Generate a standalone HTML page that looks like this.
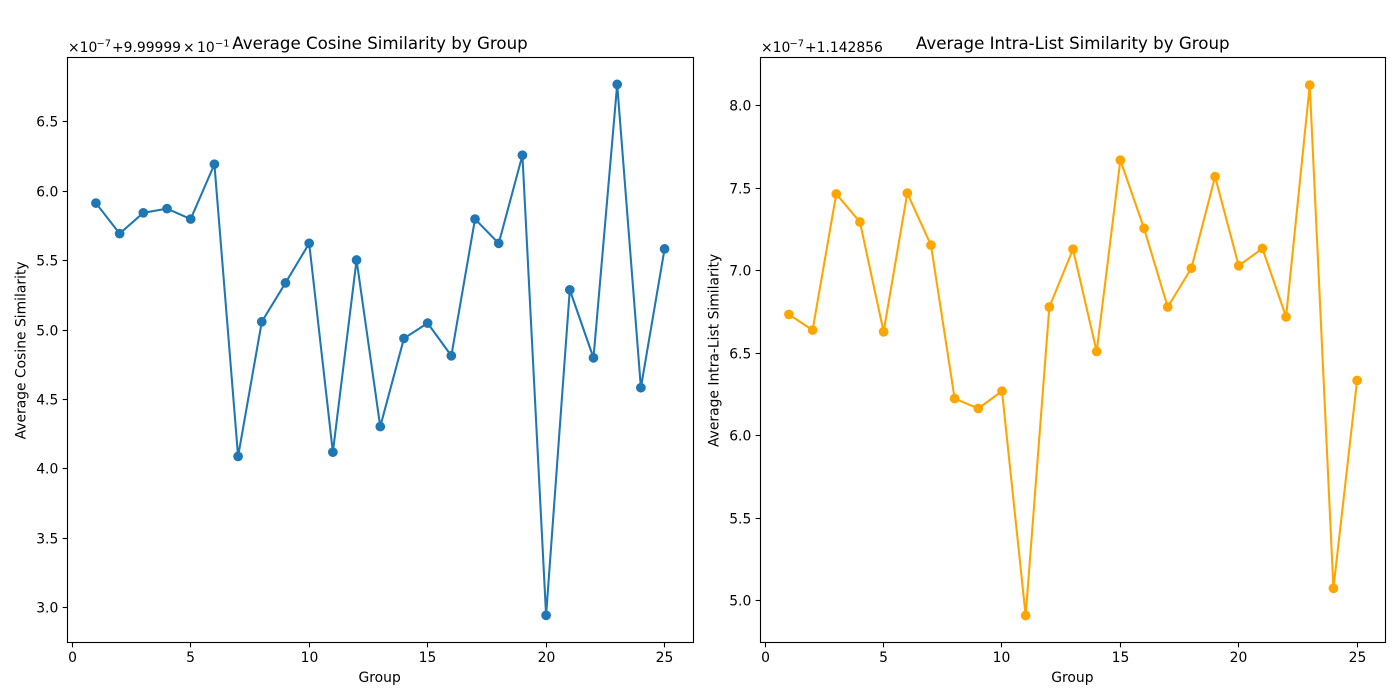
<!DOCTYPE html>
<html lang="en">
<head>
<meta charset="utf-8">
<title>Average Similarity by Group</title>
<style>
html,body{margin:0;padding:0;background:#fff;width:1400px;height:700px;overflow:hidden}
svg{display:block;font-family:"DejaVu Sans","Liberation Sans",sans-serif;fill:#000}
</style>
</head>
<body>
<svg id="fig" xmlns="http://www.w3.org/2000/svg" width="1400" height="700" viewBox="0 0 1400 700">
  <g font-size="13.89">
    <text x="68" y="52">×10</text>
    <text x="96.5" y="46.5" font-size="9.8">−7</text>
    <text x="112" y="52">+9.99999</text>
    <text x="183" y="52">×</text>
    <text x="197" y="52">10</text>
    <text x="215" y="46.5" font-size="9.8">−1</text>
  </g>
  <g font-size="13.89">
    <text x="761" y="52">×10</text>
    <text x="789.5" y="46.5" font-size="9.8">−7</text>
    <text x="805" y="52">+1.142856</text>
  </g>
  <g id="left-panel"></g>
  <g id="right-panel"></g>
</svg>
<script>
const groups = [1,2,3,4,5,6,7,8,9,10,11,12,13,14,15,16,17,18,19,20,21,22,23,24,25];
const cosineValues = [5.915,5.695,5.845,5.875,5.80,6.195,4.09,5.06,5.34,5.625,4.12,5.505,4.305,4.94,5.05,4.815,5.80,5.625,6.26,2.945,5.29,4.80,6.77,4.585,5.585];
const intraListValues = [6.735,6.64,7.465,7.295,6.63,7.47,7.155,6.225,6.165,6.27,4.91,6.78,7.13,6.51,7.67,7.257,6.78,7.015,7.57,7.03,7.135,6.72,8.125,5.075,6.335];
const xTickValues = [0,5,10,15,20,25];
const cosineTickValues = [3.0,3.5,4.0,4.5,5.0,5.5,6.0,6.5];
const intraListTickValues = [5.0,5.5,6.0,6.5,7.0,7.5,8.0];

const NS = 'http://www.w3.org/2000/svg';
const TOP = 57.5, BOTTOM = 642.5;

function make(parent, tag, attrs, text) {
  const el = document.createElementNS(NS, tag);
  for (const k in attrs) el.setAttribute(k, attrs[k]);
  if (text !== undefined) el.textContent = text;
  parent.appendChild(el);
  return el;
}

function drawPanel(cfg) {
  const root = document.getElementById(cfg.id);
  const L = cfg.left, R = cfg.right;
  const xMin = groups[0], xMax = groups[groups.length - 1];
  const xPad = (xMax - xMin) * 0.05;
  const xScale = v => L + (v - (xMin - xPad)) / ((xMax + xPad) - (xMin - xPad)) * (R - L);
  const yScale = v => BOTTOM - (v - cfg.yLow) / (cfg.yHigh - cfg.yLow) * (BOTTOM - TOP);

  const line = make(root, 'polyline', {
    points: cfg.values.map((v, i) => xScale(groups[i]).toFixed(2) + ',' + yScale(v).toFixed(2)).join(' '),
    fill: 'none', stroke: cfg.color, 'stroke-width': 2.08, 'stroke-linejoin': 'round', 'stroke-linecap': 'square'
  });
  
  

  cfg.values.forEach((v, i) => {
    const pt = make(root, 'circle', {
      cx: xScale(groups[i]).toFixed(2), cy: yScale(v).toFixed(2), r: 4.17,
      fill: cfg.color, stroke: cfg.color, 'stroke-width': 1.39
    });
    
    
  });

  const frame = make(root, 'rect', {
    x: L, y: TOP, width: cfg.frameRight - L, height: BOTTOM - TOP,
    fill: 'none', stroke: '#000', 'stroke-width': 1.11
  });
  
  

  xTickValues.forEach(t => {
    const x = Math.floor(xScale(t)) + 0.5;
    const tick = make(root, 'line', { x1: x, x2: x, y1: BOTTOM, y2: BOTTOM + 4.86, stroke: '#000', 'stroke-width': 1.11 });
    
    
    const label = make(root, 'text', { x: x, y: 662, 'font-size': 13.89, 'text-anchor': 'middle' }, String(t));
    
    
  });

  cfg.ticks.forEach(t => {
    const y = Math.floor(yScale(t)) + 0.5;
    const tick = make(root, 'line', { x1: L - 4.86, x2: L, y1: y, y2: y, stroke: '#000', 'stroke-width': 1.11 });
    
    
    const label = make(root, 'text', { x: L - 9.2, y: y + 5, 'font-size': 13.89, 'text-anchor': 'end' }, t.toFixed(1));
    
    
  });

  const title = make(root, 'text', { x: (L + R) / 2 - 0.25, y: 49, 'font-size': 16.67, 'text-anchor': 'middle' }, cfg.title);
  
  

  const xTitle = make(root, 'text', { x: (L + R) / 2 - 0.6, y: 682, 'font-size': 13.89, 'text-anchor': 'middle' }, 'Group');
  
  

  const cy = 350.4;
  const yTitle = make(root, 'text', {
    x: cfg.yTitleX, y: cy, 'font-size': 13.89, 'text-anchor': 'middle',
    transform: 'rotate(-90 ' + cfg.yTitleX + ' ' + cy + ')'
  }, cfg.yTitle);
  
  
}

drawPanel({
  id: 'left-panel', prefix: 'cosine', left: 67.5, right: 693, frameRight: 693.5, values: cosineValues, ticks: cosineTickValues,
  color: '#1f77b4', yLow: 3 - (642.5 - 607.7) / 138.8, yHigh: 3 + (607.7 - 57.5) / 138.8,
  title: 'Average Cosine Similarity by Group', yTitle: 'Average Cosine Similarity', yTitleX: 25.5
});
drawPanel({
  id: 'right-panel', prefix: 'intra-list', left: 760.5, right: 1385.5, frameRight: 1385.5, values: intraListValues, ticks: intraListTickValues,
  color: '#ffa500', yLow: 5 - (642.5 - 600.7) / 165, yHigh: 5 + (600.7 - 57.5) / 165,
  title: 'Average Intra-List Similarity by Group', yTitle: 'Average Intra-List Similarity', yTitleX: 718.5
});
</script>
</body>
</html>
